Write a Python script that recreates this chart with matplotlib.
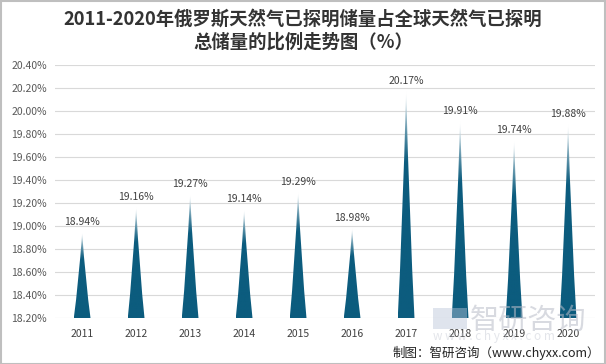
import matplotlib.pyplot as plt
import numpy as np
from matplotlib.path import Path
from matplotlib.patches import PathPatch, Rectangle

plt.rcParams['font.family'] = ['Noto Sans CJK SC', 'DejaVu Sans']

years = ['2011', '2012', '2013', '2014', '2015', '2016', '2017', '2018', '2019', '2020']
values = [18.94, 19.16, 19.27, 19.14, 19.29, 18.98, 20.17, 19.91, 19.74, 19.88]

base = 18.2
top = 20.4

fig = plt.figure(figsize=(6.06, 3.64), dpi=100)
ax = fig.add_axes([0.091, 0.126, 0.891, 0.695])

# gradient: dark teal bottom, fading to white only near the tip
dark = np.array([0x0c, 0x5c, 0x7e]) / 255.0
light = np.array([1.0, 1.0, 1.0])
t = np.linspace(0, 1, 200)
mix = np.clip((t - 0.68) / 0.32, 0, 1) ** 1.3
grad = (dark[None, :] * (1 - mix[:, None]) + light[None, :] * mix[:, None])[:, None, :]

w = 0.155
for i, v in enumerate(values):
    h = v - base
    verts = [(i - w, base), (i - 0.42 * w, base + 0.42 * h), (i, v),
             (i + 0.42 * w, base + 0.42 * h), (i + w, base), (i - w, base)]
    codes = [Path.MOVETO, Path.CURVE3, Path.CURVE3, Path.CURVE3, Path.CURVE3, Path.CLOSEPOLY]
    patch = PathPatch(Path(verts, codes), facecolor='none', edgecolor='none')
    ax.add_patch(patch)
    im = ax.imshow(grad, extent=[i - w, i + w, base, v], origin='lower',
                   aspect='auto', zorder=3)
    im.set_clip_path(patch)
    ax.text(i, v + 0.05, f'{v:.2f}%', ha='center', va='bottom',
            fontsize=7.5, color='#404040', zorder=4)

ax.set_xlim(-0.5, len(years) - 0.5)
ax.set_ylim(base, top)
ticks = np.arange(18.2, 20.41, 0.2)
ax.set_yticks(ticks)
ax.set_yticklabels([f'{y:.2f}%' for y in ticks], fontsize=7.5, color='#595959')
ax.set_xticks(range(len(years)))
ax.set_xticklabels(years, fontsize=7.5, color='#404040')
ax.tick_params(length=0, pad=6)
ax.tick_params(axis='x', pad=8)
ax.grid(axis='y', color='#d9d9d9', linewidth=0.8, zorder=0)
ax.set_axisbelow(True)
for s in ax.spines.values():
    s.set_visible(False)

fig.text(0.5, 0.975, '2011-2020年俄罗斯天然气已探明储量占全球天然气已探明\n总储量的比例走势图（%）',
         ha='center', va='top', fontsize=13.2, fontweight='bold', color='#333333',
         linespacing=1.3)

# watermark
fig.text(0.775, 0.118, '智研咨询', ha='left', va='center', fontsize=21,
         color='#b8bcc8', alpha=0.55)
fig.text(0.715, 0.075, 'w w w . c h y x x . c o m', ha='left', va='center', fontsize=8.5,
         color='#c8ccd6', alpha=0.5)
fig.patches.append(Rectangle((0.715, 0.095), 0.055, 0.06, transform=fig.transFigure,
                             facecolor='#b8c4d8', alpha=0.45, edgecolor='none'))

fig.text(0.99, 0.03, '制图：智研咨询（www.chyxx.com）', ha='right', va='center',
         fontsize=9, color='#222222')

fig.patches.append(Rectangle((0.001, 0.001), 0.998, 0.997, transform=fig.transFigure,
                             facecolor='none', edgecolor='#bfbfbf', linewidth=1.5))

fig.savefig('out.png', dpi=100)
